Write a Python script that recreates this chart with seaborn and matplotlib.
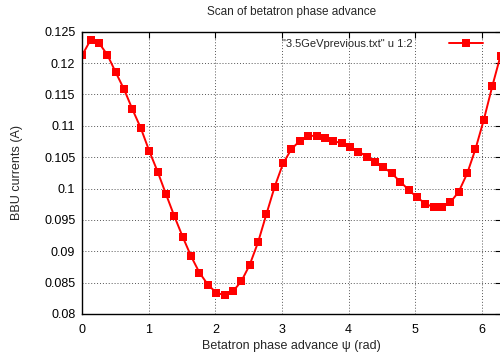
import matplotlib
matplotlib.use("Agg")
import matplotlib.pyplot as plt
import seaborn as sns
import pandas as pd

# Data
psi = [0.000, 0.126, 0.251, 0.377, 0.503, 0.628, 0.754, 0.880, 1.005, 1.131,
       1.257, 1.382, 1.508, 1.634, 1.759, 1.885, 2.011, 2.136, 2.262, 2.388,
       2.513, 2.639, 2.765, 2.890, 3.016, 3.142, 3.267, 3.393, 3.519, 3.644,
       3.770, 3.896, 4.021, 4.147, 4.273, 4.398, 4.524, 4.650, 4.775, 4.901,
       5.027, 5.152, 5.278, 5.404, 5.529, 5.655, 5.781, 5.906, 6.032, 6.158,
       6.283]
bbu = [0.1213, 0.1237, 0.1232, 0.1213, 0.1185, 0.1158, 0.1126, 0.1096, 0.1060, 0.1027,
       0.0991, 0.0956, 0.0923, 0.0892, 0.0866, 0.0847, 0.0834, 0.0830, 0.0836, 0.0852,
       0.0878, 0.0914, 0.0959, 0.1003, 0.1040, 0.1063, 0.1076, 0.1084, 0.1084, 0.1080,
       0.1076, 0.1072, 0.1066, 0.1059, 0.1051, 0.1043, 0.1034, 0.1024, 0.1011, 0.0998,
       0.0986, 0.0976, 0.0970, 0.0970, 0.0978, 0.0995, 0.1024, 0.1063, 0.1110, 0.1163,
       0.1212]
series_label = '"3.5GeVprevious.txt" u 1:2'
title = "Scan of betatron phase advance"
xlabel = "Betatron phase advance \u03c8 (rad)"
ylabel = "BBU currents (A)"
xticks = [0, 1, 2, 3, 4, 5, 6]
yticks = [0.08, 0.085, 0.09, 0.095, 0.1, 0.105, 0.11, 0.115, 0.12, 0.125]
ytick_labels = ["0.08", "0.085", "0.09", "0.095", "0.1", "0.105", "0.11", "0.115", "0.12", "0.125"]

sns.set_style("white")
plt.rcParams["font.family"] = ["Liberation Sans", "DejaVu Sans"]

df = pd.DataFrame({"psi": psi, "bbu": bbu, "series": series_label})

fig = plt.figure(figsize=(5.0, 3.54), dpi=100)
ax = fig.add_axes([0.1646, 0.113, 0.8366, 0.7975])

sns.lineplot(data=df, x="psi", y="bbu", hue="series", palette=["#ff0000"],
             marker="s", markersize=5.5, markeredgewidth=0, linewidth=1.4,
             ax=ax)

ax.set_xlim(0, 6.2832)
ax.set_ylim(0.08, 0.125)
ax.set_xticks(xticks)
ax.set_xticklabels([str(t) for t in xticks])
ax.set_yticks(yticks)
ax.set_yticklabels(ytick_labels)
ax.tick_params(direction="in", top=True, right=True, length=4, width=0.8,
               labelsize=9, colors="black")
ax.tick_params(axis="x", pad=7)
ax.tick_params(axis="y", pad=5)
ax.grid(True, linestyle=(0, (1, 2)), color="#555555", linewidth=0.7)
for s in ax.spines.values():
    s.set_color("black")
    s.set_linewidth(1.0)

ax.set_title(title, fontsize=8.5, pad=12)
ax.set_xlabel(xlabel, fontsize=9, labelpad=3)
ax.set_ylabel(ylabel, fontsize=9, labelpad=15)

leg = ax.legend(loc="upper right", frameon=False, markerfirst=False,
                fontsize=8, handlelength=3.0, handletextpad=3.3,
                borderaxespad=0.6, bbox_to_anchor=(0.984, 1.015))
for t in leg.get_texts():
    t.set_text(series_label)

fig.savefig("out.png", dpi=100)
